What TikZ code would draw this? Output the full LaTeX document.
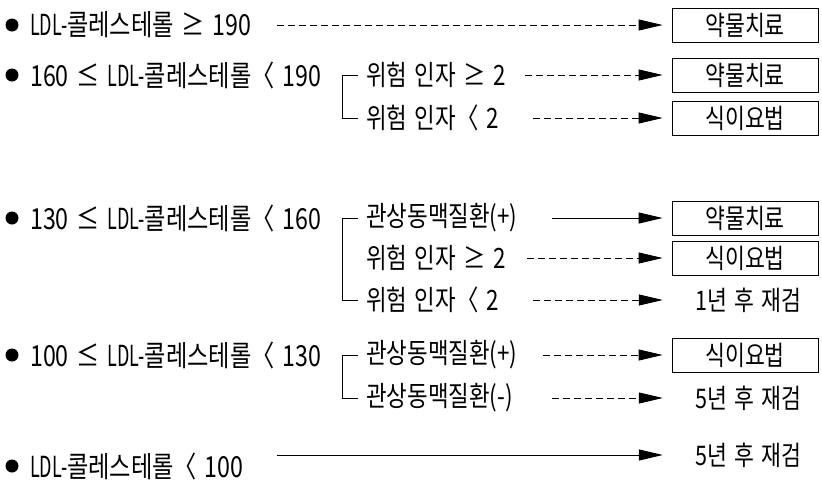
\documentclass[tikz,border=0pt]{standalone}
\usepackage{fontspec}
\newfontfamily\kr[FakeStretch=0.8, WordSpace=1.6]{Noto Sans CJK KR}
\newfontfamily\krn[FakeStretch=0.62, WordSpace=1.6]{Noto Sans CJK KR}
\newfontfamily\krr[FakeStretch=0.8, WordSpace=1.5]{Noto Sans CJK KR}
\usetikzlibrary{arrows.meta}
\tikzset{
  lbl/.style={font=\kr\fontsize{29}{33}\selectfont, inner sep=0pt, anchor=west},
  sub/.style={font=\kr\fontsize{28}{32}\selectfont, inner sep=0pt, anchor=west},
  res/.style={font=\krr\fontsize{27}{31}\selectfont, minimum width=146pt, minimum height=34pt, inner sep=0pt},
  resbox/.style={res, draw, line width=0.8pt},
  dasharrow/.style={line width=0.8pt, dash pattern=on 7pt off 4pt, -{Triangle[length=24pt,width=11pt]}, shorten >=9pt},
  solidarrow/.style={line width=1pt, -{Triangle[length=24pt,width=11pt]}, shorten >=9pt},
  brk/.style={line width=0.6pt},
  bul/.style={circle, fill, inner sep=0pt, minimum size=13pt}
}
\newcommand{\ldl}{{\krn LDL-}}
\begin{document}
\begin{tikzpicture}[x=1pt,y=-1pt]
\useasboundingbox (0,0) rectangle (822,483);
% row 1
\node[bul] (b1) at (12,25) {};
\node[lbl] (c1) at (30,25) {\ldl 콜레스테롤 ≥ 190};
\node[resbox] (r1) at (745,25) {약물치료};
\coordinate (s1) at (277,25);
\draw[dasharrow] (s1) -- (r1.west);
% row 2-3
\node[bul] (b2) at (12,75) {};
\node[lbl] (c2) at (30,75) {160 ≤ \ldl 콜레스테롤〈 190};
\node[sub] (a2) at (366,75) {위험 인자 ≥ 2};
\node[sub] (a3) at (366,118) {위험 인자〈 2};
\draw[brk] ([xshift=-8pt]a2.west) -- ([xshift=-24pt]a2.west) |- ([xshift=-8pt]a3.west);
\node[resbox] (r2) at (745,75) {약물치료};
\node[resbox] (r3) at (745,118) {식이요법};
\coordinate (s2) at (525,75);
\coordinate (s3) at (533,118);
\draw[dasharrow] (s2) -- (r2.west);
\draw[dasharrow] (s3) -- (r3.west);
% row 4-6
\node[bul] (b4) at (12,218) {};
\node[lbl] (c4) at (30,218) {130 ≤ \ldl 콜레스테롤〈 160};
\node[sub] (a4) at (366,218) {관상동맥질환(+)};
\node[sub] (a5) at (366,258) {위험 인자 ≥ 2};
\node[sub] (a6) at (366,300) {위험 인자〈 2};
\draw[brk] ([xshift=-8pt]a4.west) -- ([xshift=-24pt]a4.west) |- ([xshift=-8pt]a6.west);
\node[resbox] (r4) at (745,218) {약물치료};
\node[resbox] (r5) at (745,258) {식이요법};
\node[res] (r6) at (748,300) {1년 후 재검};
\coordinate (s4) at (552,218);
\coordinate (s5) at (527,258);
\coordinate (s6) at (533,300);
\draw[solidarrow] (s4) -- (r4.west);
\draw[dasharrow] (s5) -- (r5.west);
\draw[dasharrow] (s6) -- ([xshift=-3pt]r6.west);
% row 7-8
\node[bul] (b7) at (12,355) {};
\node[lbl] (c7) at (30,355) {100 ≤ \ldl 콜레스테롤〈 130};
\node[sub] (a7) at (366,355) {관상동맥질환(+)};
\node[sub] (a8) at (366,398) {관상동맥질환(-)};
\draw[brk] ([xshift=-8pt]a7.west) -- ([xshift=-24pt]a7.west) |- ([xshift=-8pt]a8.west);
\node[resbox] (r7) at (745,355) {식이요법};
\node[res] (r8) at (748,398) {5년 후 재검};
\coordinate (s7) at (543,355);
\coordinate (s8) at (552,398);
\draw[dasharrow] (s7) -- (r7.west);
\draw[dasharrow] (s8) -- ([xshift=-3pt]r8.west);
% row 9
\node[bul] (b9) at (12,466) {};
\node[lbl] (c9) at (30,466) {\ldl 콜레스테롤〈 100};
\node[res] (r9) at (748,455) {5년 후 재검};
\coordinate (s9) at (277,455);
\draw[solidarrow] (s9) -- ([xshift=-3pt]r9.west);
\end{tikzpicture}
\end{document}
